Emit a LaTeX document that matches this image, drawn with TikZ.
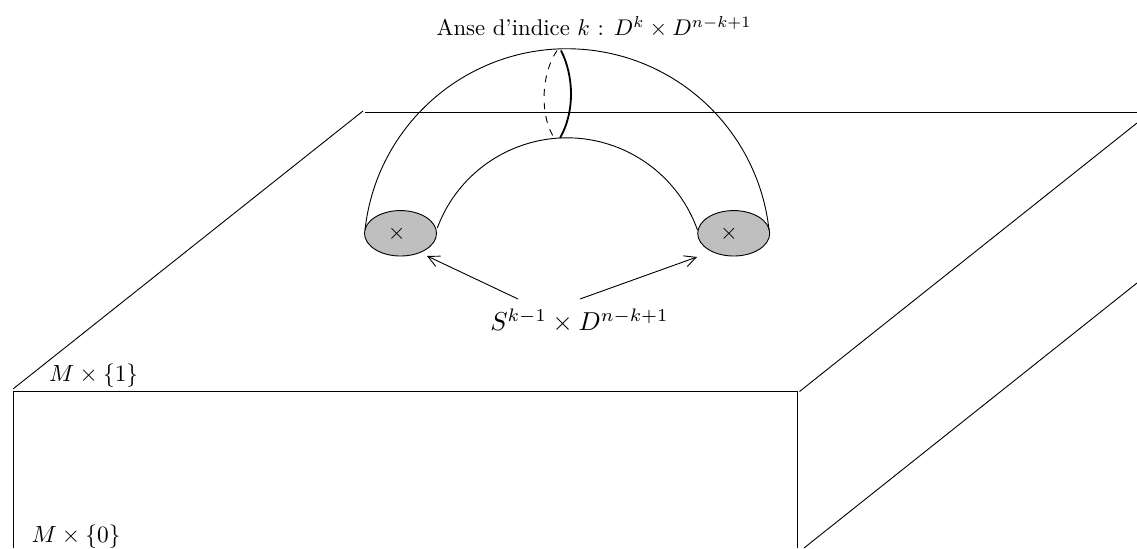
\documentclass[tikz,border=0pt]{standalone}
\usetikzlibrary{arrows.meta,shapes.geometric}
\begin{document}
\begin{tikzpicture}[x=0.44pt,y=-0.44pt,
  edge/.style={line width=0.4pt,black},
  discshape/.style={ellipse,draw,fill=black!25,line width=0.4pt,minimum width=31.7pt,minimum height=20pt,inner sep=0pt},
  lbl/.style={inner sep=0pt,outer sep=0pt,text=black},
  arrowline/.style={edge,-{Straight Barb[length=5pt,width=5pt,line width=0.4pt]}}]
\useasboundingbox (0,0) rectangle (1137,548);
% corners of the block
\coordinate (bl) at (13,391); \coordinate (br) at (797,391);
\coordinate (blb) at (13,548); \coordinate (brb) at (797,548);
\coordinate (dlA) at (13,389); \coordinate (dlB) at (363,111);
\coordinate (backA) at (365,112); \coordinate (backB) at (1137,112);
\coordinate (drA) at (799.5,391.5); \coordinate (drB) at (1137,123);
\coordinate (dlowA) at (804,548); \coordinate (dlowB) at (1137,283);
\draw[edge] (blb) -- (bl) -- (br) -- (brb);
\draw[edge] (dlA) -- (dlB);
\draw[edge] (backA) -- (backB);
\draw[edge] (drA) -- (drB);
\draw[edge] (dlowA) -- (dlowB);
% handle
\coordinate (outL) at (365,230); \coordinate (inL) at (437.3,228); \coordinate (topI) at (560,138);
\node[discshape] (dL) at (400.5,233.3) {};
\node[discshape] (dR) at (733.7,233.3) {};
\draw[edge] (outL) arc[start angle=186.2,end angle=353.8,radius=203.2];
\draw[edge] (inL) arc[start angle=200.4,end angle=340.5,radius=138.4];
\draw[line width=0.8pt] (561,50.5) .. controls (574,76) and (575,112) .. (topI);
\draw[edge,dashed] (557,50.5) .. controls (541,74) and (540,114) .. (553,136);
\node[lbl] (c1) at (396.7,233.5) {$\times$};
\node[lbl] (c2) at (729,233.5) {$\times$};
% labels
\node[lbl] (title) at (594,27) {Anse d'indice $k$ : $D^k\times D^{n-k+1}$};
\node[lbl,scale=1.14] (skd) at (579.5,320.5) {$S^{k-1}\times D^{n-k+1}$};
\node[lbl,scale=1.03] (m1) at (93.7,376) {$M\times\{1\}$};
\node[lbl,scale=1.03] (m0) at (76,536.5) {$M\times\{0\}$};
\coordinate (aL) at (518,299); \coordinate (aLe) at (427,256);
\coordinate (aR) at (580,299); \coordinate (aRe) at (697,257);
\draw[arrowline] (aL) -- (aLe);
\draw[arrowline] (aR) -- (aRe);
\end{tikzpicture}
\end{document}
